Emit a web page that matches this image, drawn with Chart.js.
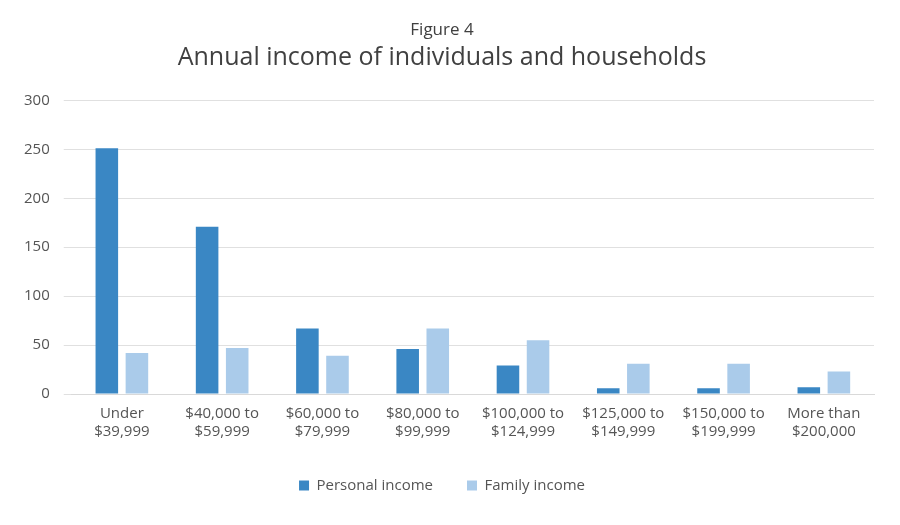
<!DOCTYPE html>
<html><head><meta charset="utf-8">
<script src="https://cdn.jsdelivr.net/npm/chart.js@4"></script>
<style>html,body{margin:0;padding:0;background:#fff}#w{width:900px;height:525px}</style>
</head><body><div id="w"><canvas id="c"></canvas></div>
<script>
const categories = [["Under","$39,999"],["$40,000 to","$59,999"],["$60,000 to","$79,999"],["$80,000 to","$99,999"],["$100,000 to","$124,999"],["$125,000 to","$149,999"],["$150,000 to","$199,999"],["More than","$200,000"]];
const personalIncome = [251,171,67,46,29,6,6,7];
const familyIncome = [42,47,39,67,55,31,31,23];
const font = "'Open Sans', 'Liberation Sans', sans-serif";
new Chart(document.getElementById('c'), {
  type: 'bar',
  data: { labels: categories, datasets: [
    {label:'Personal income', data: personalIncome, backgroundColor:'#3a87c4', barPercentage:0.75, categoryPercentage:0.6},
    {label:'Family income', data: familyIncome, backgroundColor:'#aacbea', barPercentage:0.75, categoryPercentage:0.6}
  ]},
  options: {
    responsive:true, maintainAspectRatio:false, animation:false,
    layout:{padding:{left:10,right:26,top:20,bottom:22}},
    plugins:{
      title:{display:true, text:'Figure 4', color:'#404040', font:{family:font,size:17,weight:'normal'}, padding:{top:0,bottom:2}},
      subtitle:{display:true, text:'Annual income of individuals and households', color:'#404040', font:{family:font,size:25,weight:'normal'}, padding:{top:0,bottom:28}},
      legend:{position:'bottom', labels:{boxWidth:10, boxHeight:10, color:'#555', font:{family:font,size:15}, padding:34}},
      tooltip:{enabled:false}
    },
    scales:{
      x:{grid:{display:false}, border:{color:'#d9d9d9'}, ticks:{color:'#555', font:{family:font,size:15}, maxRotation:0}},
      y:{min:0,max:300, ticks:{stepSize:50, color:'#555', font:{family:font,size:15}, padding:14}, grid:{color:'#e0e0e0'}, border:{display:false}}
    }
  }
});
</script></body></html>
